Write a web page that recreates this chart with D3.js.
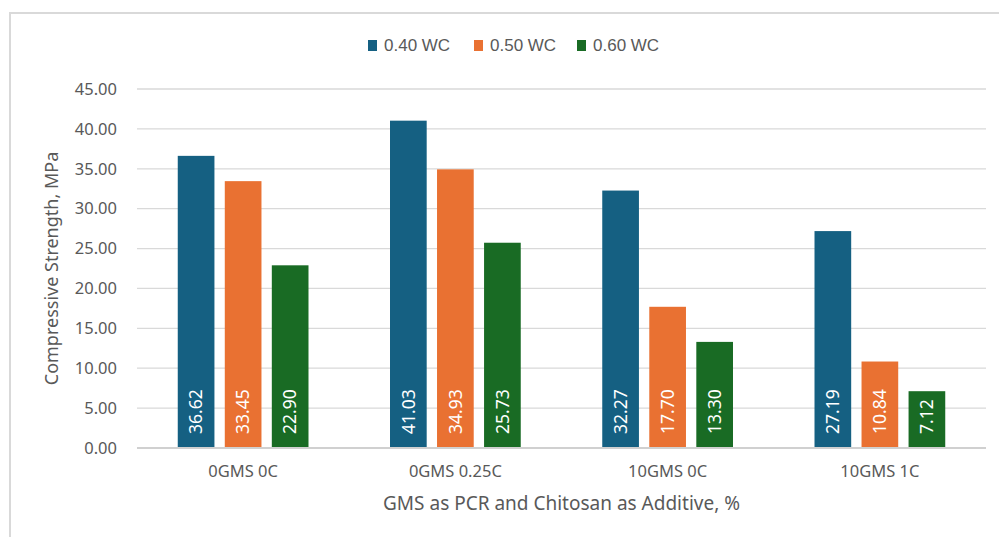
<!DOCTYPE html>
<html>
<head>
<meta charset="utf-8">
<script src="https://cdn.jsdelivr.net/npm/d3@7"></script>
<style>
  html, body { margin: 0; padding: 0; background: #ffffff; }
  svg { display: block; }
</style>
</head>
<body>
<svg id="chart" width="999" height="537"></svg>
<script>
// Mix designs along the x axis
const categories = ["0GMS 0C", "0GMS 0.25C", "10GMS 0C", "10GMS 1C"];
// Water–cement ratio series
const seriesNames = ["0.40 WC", "0.50 WC", "0.60 WC"];
// Compressive strength (MPa) for each series, per category
const wc040 = [36.62, 41.03, 32.27, 27.19];
const wc050 = [33.45, 34.93, 17.70, 10.84];
const wc060 = [22.90, 25.73, 13.30, 7.12];
const yTicks = [0, 5, 10, 15, 20, 25, 30, 35, 40, 45];

const seriesValues = [wc040, wc050, wc060];
const colors = ["#156082", "#E97132", "#196B24"];

const W = 999, H = 537;
const plot = { left: 137, right: 986, top: 89, bottom: 448 };
const svg = d3.select("#chart");
const textFont = "'Noto Sans', 'Liberation Sans', Arial, sans-serif";
const grey = "#595959";

// Chart area border (runs past the right and bottom edges)
svg.append("path")
  .attr("d", `M10,${H + 5} L10,13 L${W + 5},13`)
  .attr("fill", "none")
  .attr("stroke", "#d9d9d9")
  .attr("stroke-width", 2);

const x0 = d3.scaleBand()
  .domain(categories)
  .range([plot.left, plot.right])
  .paddingInner(0.384)
  .paddingOuter(0.192);

const x1 = d3.scaleBand()
  .domain(seriesNames)
  .range([0, x0.bandwidth()])
  .paddingInner(0.22)
  .paddingOuter(0);

const y = d3.scaleLinear().domain([0, 45]).range([plot.bottom, plot.top]);

// Horizontal gridlines
svg.append("g")
  .selectAll("line")
  .data(yTicks.filter(t => t > 0))
  .join("line")
  .attr("x1", plot.left).attr("x2", plot.right)
  .attr("y1", d => y(d)).attr("y2", d => y(d))
  .attr("stroke", "#d9d9d9")
  .attr("stroke-width", 1.3);

// Y axis tick labels
const yAxis = d3.axisLeft(y).tickValues(yTicks).tickFormat(d3.format(".2f")).tickSize(0).tickPadding(20);
const yg = svg.append("g").attr("transform", `translate(${plot.left},0)`).call(yAxis);
yg.select(".domain").remove();
yg.selectAll("text")
  .attr("font-family", textFont)
  .attr("font-size", 16.5)
  .attr("fill", grey);

// Bars
const groups = svg.append("g")
  .selectAll("g")
  .data(categories.map((c, i) => ({ c, i })))
  .join("g")
  .attr("transform", d => `translate(${x0(d.c)},0)`);

const cells = groups.selectAll("g.bar")
  .data(d => seriesNames.map((s, k) => ({ s, k, v: seriesValues[k][d.i] })))
  .join("g")
  .attr("class", "bar");

cells.append("rect")
  .attr("x", d => x1(d.s))
  .attr("y", d => y(d.v))
  .attr("width", x1.bandwidth())
  .attr("height", d => y(0) - y(d.v))
  .attr("fill", d => colors[d.k]);

// Value labels inside the bars, reading upward
cells.append("text")
  .attr("transform", d => `translate(${x1(d.s) + x1.bandwidth() / 2},${y(0) - 14}) rotate(-90)`)
  .attr("dy", "0.36em")
  .attr("text-anchor", "start")
  .attr("font-family", textFont)
  .attr("font-size", 17.5)
  .attr("fill", "#ffffff")
  .text(d => d.v.toFixed(2));

// Baseline
svg.append("line")
  .attr("x1", plot.left).attr("x2", plot.right)
  .attr("y1", y(0)).attr("y2", y(0))
  .attr("stroke", "#d0d0d0")
  .attr("stroke-width", 2);

// X axis category labels
const xAxis = d3.axisBottom(x0).tickSize(0).tickPadding(17);
const xg = svg.append("g").attr("transform", `translate(0,${plot.bottom})`).call(xAxis);
xg.select(".domain").remove();
xg.selectAll("text")
  .attr("font-family", textFont)
  .attr("font-size", 16.5)
  .attr("fill", grey);

// Axis titles
svg.append("text")
  .attr("x", (plot.left + plot.right) / 2)
  .attr("y", 503)
  .attr("dy", "0.35em")
  .attr("text-anchor", "middle")
  .attr("font-family", textFont)
  .attr("font-size", 19)
  .attr("fill", grey)
  .text("GMS as PCR and Chitosan as Additive, %");

svg.append("text")
  .attr("transform", `translate(52,${(plot.top + plot.bottom) / 2}) rotate(-90)`)
  .attr("dy", "0.35em")
  .attr("text-anchor", "middle")
  .attr("font-family", textFont)
  .attr("font-size", 18)
  .attr("fill", grey)
  .text("Compressive Strength, MPa");

// Legend
const legendX = [368, 474, 577];
const legend = svg.append("g")
  .selectAll("g")
  .data(seriesNames.map((s, k) => ({ s, k })))
  .join("g")
  .attr("transform", d => `translate(${legendX[d.k]},0)`);
legend.append("rect")
  .attr("x", 0).attr("y", 40)
  .attr("width", 9).attr("height", 11)
  .attr("fill", d => colors[d.k]);
legend.append("text")
  .attr("x", 16).attr("y", 45.5)
  .attr("dy", "0.35em")
  .attr("font-family", "'Liberation Sans', Arial, sans-serif")
  .attr("font-size", 17)
  .attr("fill", grey)
  .text(d => d.s);
</script>
</body>
</html>
